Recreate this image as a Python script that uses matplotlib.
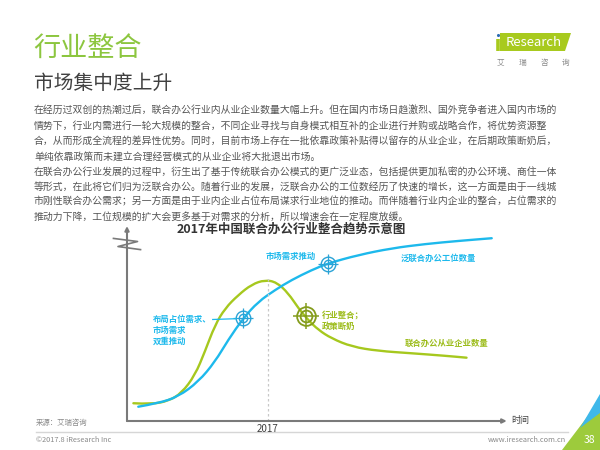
import matplotlib
matplotlib.use("Agg")
import matplotlib.pyplot as plt
from matplotlib.patches import Polygon, PathPatch
from matplotlib.path import Path

plt.rcParams['font.family'] = ['Noto Sans CJK SC', 'DejaVu Sans']

# --- data (x = time, y = relative amount, 0..100) ---
year_tick = 37.5
year_label = "2017"

# 泛联合办公工位数量
blue_x = [3.0, 8.3, 13.6, 19.0, 23.4, 26.9, 30.9, 34.9, 39.4, 43.8, 49.1,
          53.5, 61.5, 70.4, 79.3, 88.1, 97.0]
blue_y = [7.4, 9.2, 12.6, 20.4, 30.7, 42.0, 53.2, 61.8, 67.9, 73.1, 78.2,
          81.7, 86.0, 89.5, 91.7, 93.3, 94.7]

# 联合办公从业企业数量
green_x = [1.7, 6.6, 11.0, 14.5, 18.1, 20.7, 23.4, 26.1, 29.6, 33.2, 36.7,
           39.8, 42.9, 45.6, 48.2, 50.9, 54.4, 59.8, 66.8, 75.7, 84.6, 90.3]
green_y = [9.2, 8.7, 10.4, 14.4, 23.8, 35.9, 49.7, 58.4, 65.3, 70.8, 73.1,
           71.9, 66.2, 58.4, 52.3, 47.2, 42.8, 38.5, 36.3, 35.1, 33.8, 32.8]

# target markers (x, y)
blue_targets = [(30.9, 53.2), (53.5, 81.4)]
green_targets = [(47.6, 54.2)]

para_lines = [
    "在经历过双创的热潮过后，联合办公行业内从业企业数量大幅上升。但在国内市场日趋激烈、国外竞争者进入国内市场的",
    "情势下，行业内需进行一轮大规模的整合，不同企业寻找与自身模式相互补的企业进行并购或战略合作，将优势资源整",
    "合，从而形成全流程的差异性优势。同时，目前市场上存在一批依靠政策补贴得以留存的从业企业，在后期政策断奶后，",
    "单纯依靠政策而未建立合理经营模式的从业企业将大批退出市场。",
    "在联合办公行业发展的过程中，衍生出了基于传统联合办公模式的更广泛业态，包括提供更加私密的办公环境、商住一体",
    "等形式，在此将它们归为泛联合办公。随着行业的发展，泛联合办公的工位数经历了快速的增长，这一方面是由于一线城",
    "市刚性联合办公需求；另一方面是由于业内企业占位布局谋求行业地位的推动。而伴随着行业内企业的整合，占位需求的",
    "推动力下降，工位规模的扩大会更多基于对需求的分析，所以增速会在一定程度放缓。",
]

BLUE = "#1db9ec"
BLUE_T = "#2aa3d6"
GREEN = "#a6c81e"
GREEN_T = "#849c1c"
GREEN_TXT = "#9cbc1a"
AXIS = "#7a7a7a"


def smooth_curve(ax, xs, ys, color):
    # quadratic bezier pieces, read points used as control points
    verts = [(xs[0], ys[0])]
    codes = [Path.MOVETO]
    for i in range(1, len(xs) - 1):
        mx = (xs[i] + xs[i + 1]) / 2
        my = (ys[i] + ys[i + 1]) / 2
        verts += [(xs[i], ys[i]), (mx, my)]
        codes += [Path.CURVE3, Path.CURVE3]
    verts.append((xs[-1], ys[-1]))
    codes.append(Path.LINETO)
    ax.add_patch(PathPatch(Path(verts, codes), fill=False, edgecolor=color,
                           lw=1.7, capstyle="round", joinstyle="round"))


fig = plt.figure(figsize=(6, 4.5), dpi=100)

# page layer in pixel coordinates
bg = fig.add_axes([0, 0, 1, 1])
bg.set_xlim(0, 600)
bg.set_ylim(450, 0)
bg.axis("off")

bg.text(33, 48, "行业整合", fontsize=19.5, color="#8cc63f", va="center", ha="left")
bg.text(34, 83, "市场集中度上升", fontsize=14.2, color="#404040", va="center", ha="left")

for i, line in enumerate(para_lines):
    bg.text(34, 111 + i * 15.1, line, fontsize=7.1, color="#555555",
            va="center", ha="left")

bg.text(291, 229, "2017年中国联合办公行业整合趋势示意图", fontsize=9,
        fontweight="bold", color="#333333", va="center", ha="center")

# logo
bg.add_patch(Polygon([(500, 33), (571, 33), (565, 51), (500, 51)],
                     closed=True, color="#a8ca1e", lw=0))
bg.text(534, 42.5, "Research", fontsize=9.5, color="white", va="center", ha="center")
bg.plot([498, 498], [38.5, 51], color="#a8ca1e", lw=2.6, solid_capstyle="butt")
bg.scatter([498], [34.5], s=5, color="#2b6cb3", lw=0)
for j, ch in enumerate("艾瑞咨询"):
    bg.text(500 + j * 22, 63, ch, fontsize=5.5, color="#888888", va="center", ha="center")

# footer
bg.text(36, 423, "来源：艾瑞咨询", fontsize=5.3, color="#8a8a8a", va="center", ha="left")
bg.plot([36, 568], [432, 432], color="#d6d6d6", lw=1)
bg.text(36, 440, "©2017.8 iResearch Inc", fontsize=5.3, color="#8a8a8a",
        va="center", ha="left")
bg.text(566, 440, "www.iresearch.com.cn", fontsize=5.3, color="#8a8a8a",
        va="center", ha="right")
bg.add_patch(Polygon([(562, 450), (600, 450), (600, 400)], closed=True,
                     color="#9dcb3c", lw=0))
bg.add_patch(Polygon([(580, 428), (600, 394), (600, 413)], closed=True,
                     color="#3fb8ea", lw=0))
bg.text(589, 440, "38", fontsize=7.5, color="white", va="center", ha="center")

# chart
ax = fig.add_axes([127 / 600, 1 - 421 / 450, 376 / 600, 193 / 450])
ax.set_facecolor("none")
ax.set_xlim(0, 100)
ax.set_ylim(0, 100)
for s in ax.spines.values():
    s.set_visible(False)
ax.set_yticks([])
ax.set_xticks([year_tick])
ax.set_xticklabels([year_label])
ax.tick_params(axis="x", length=0, pad=2.5, labelsize=7, labelcolor="#404040")

ax.annotate("", xy=(101, 0), xytext=(0, 0), annotation_clip=False,
            arrowprops=dict(arrowstyle="-|>", color=AXIS, lw=1.5,
                            mutation_scale=6, shrinkA=0, shrinkB=0))
ax.annotate("", xy=(0, 101), xytext=(0, 0), annotation_clip=False,
            arrowprops=dict(arrowstyle="-|>", color=AXIS, lw=1.5,
                            mutation_scale=6, shrinkA=0, shrinkB=0))
# axis break
ax.plot([-3.6, 2.8, -2.4, 3.6], [94.6, 93.0, 90.4, 88.8], color=AXIS, lw=1.2,
        clip_on=False)
ax.text(102.2, 0, "时间", fontsize=6.5, color="#404040", va="center", ha="left")

ax.plot([year_tick, year_tick], [0, 74], color="#c8c8c8", lw=0.9, ls=(0, (2, 2)))

smooth_curve(ax, green_x, green_y, GREEN)
smooth_curve(ax, blue_x, blue_y, BLUE)

for tx, ty in blue_targets:
    ax.plot(tx, ty, marker="o", ms=10.5, mfc="none", mec=BLUE_T, mew=1.0)
    ax.plot(tx, ty, marker="o", ms=6, mfc="none", mec=BLUE_T, mew=1.0)
    ax.plot(tx, ty, marker="+", ms=15, mec=BLUE_T, mew=0.9)
for tx, ty in green_targets:
    ax.plot(tx, ty, marker="o", ms=13.5, mfc="none", mec=GREEN_T, mew=1.3)
    ax.plot(tx, ty, marker="o", ms=8.5, mfc="none", mec=GREEN_T, mew=1.3)
    ax.plot(tx, ty, marker="+", ms=19, mec=GREEN_T, mew=1.1)

lab = dict(fontsize=6, fontweight="bold")
ax.text(43.6, 85.5, "市场需求推动", color=BLUE, ha="center", va="center", **lab)
ax.text(82.7, 84.5, "泛联合办公工位数量", color=BLUE, ha="center", va="center", **lab)
ax.text(6.9, 47.0, "布局占位需求、\n市场需求\n双重推动", color=BLUE, ha="left",
        va="center", linespacing=1.25, **lab)
ax.plot([22.8, 29.0], [52.6, 53.0], color=BLUE, lw=0.9)
ax.text(51.9, 52.0, "行业整合；\n政策断奶", color=GREEN_TXT, ha="left",
        va="center", linespacing=1.25, **lab)
ax.text(85.1, 40.3, "联合办公从业企业数量", color=GREEN_TXT, ha="center",
        va="center", **lab)

fig.savefig("out.png", dpi=100)
